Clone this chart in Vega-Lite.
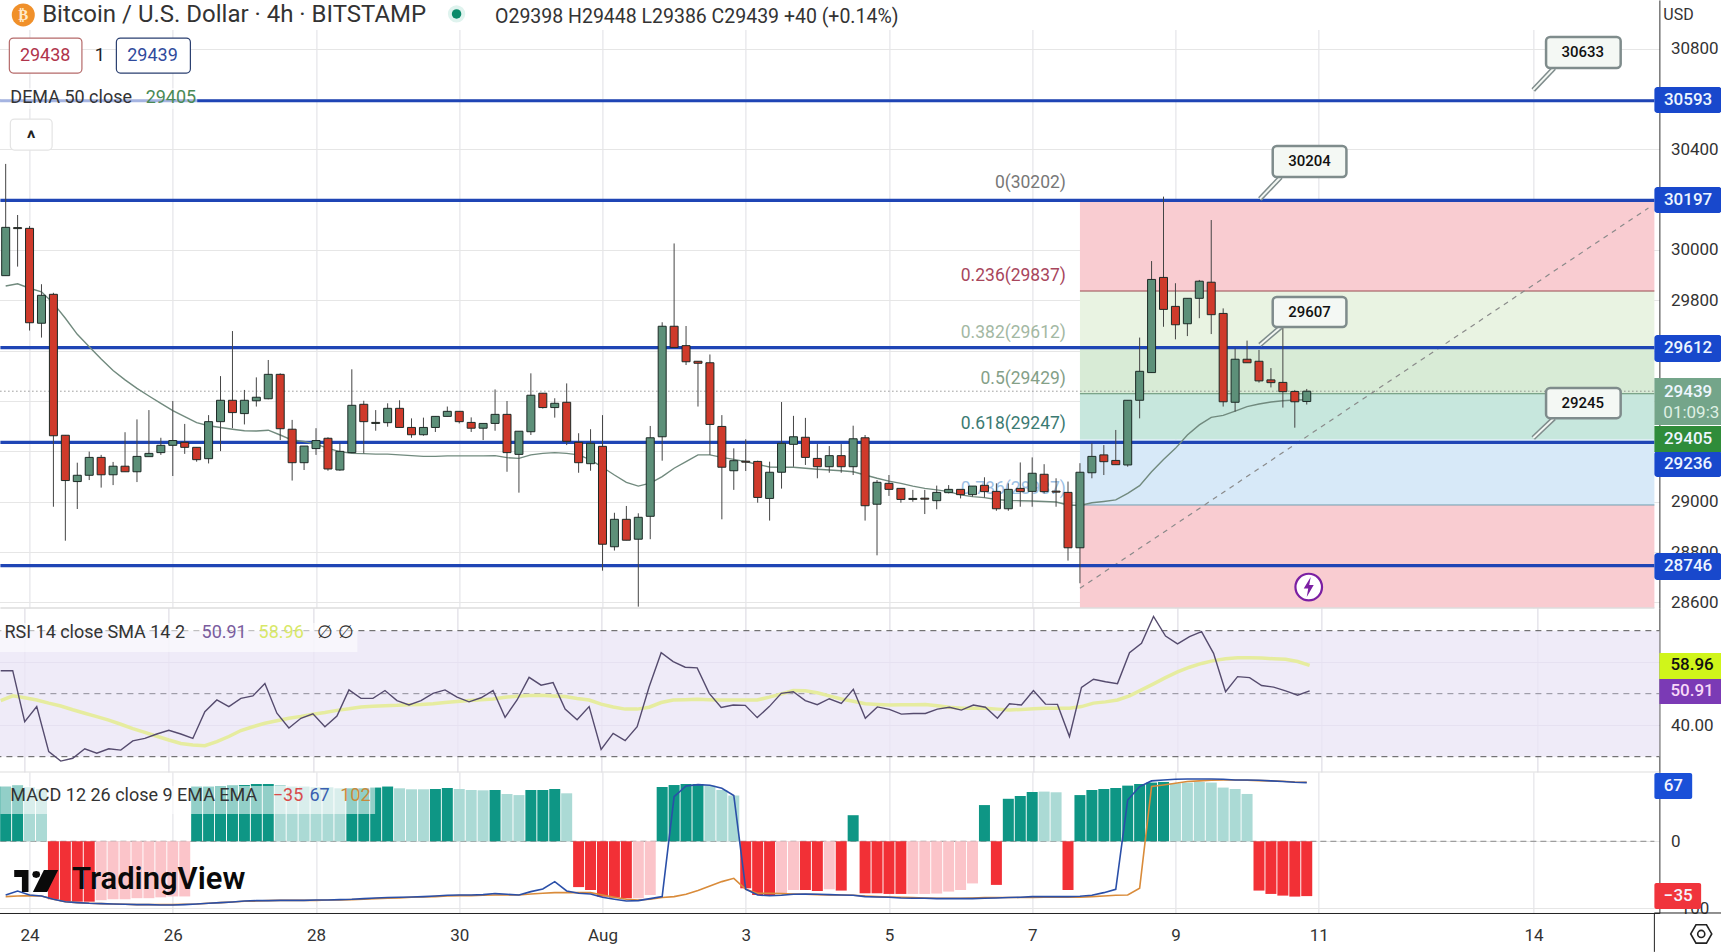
{"$schema":"https://vega.github.io/schema/vega-lite/v6.json","padding":{"left":-6.6,"top":0,"right":-3.2,"bottom":0},"autosize":{"type":"pad"},"background":"white","spacing":0,"bounds":"flush","config":{"view":{"stroke":null},"concat":{"spacing":0},"text":{"font":"Roboto"}},
"resolve":{"scale":{"color":"independent","fill":"independent","stroke":"independent"}},
"datasets":{"bars":[
{"t":"2023-07-23T16:00Z","o":29898,"h":30342,"l":29898,"c":30090,"dema":29857,"rsi":57.3,"ma":47.8,"hist":34.8,"shade":"up","macd":-31.8,"sig":-36.5},
{"t":"2023-07-23T20:00Z","o":30089,"h":30139,"l":29934,"c":30085,"dema":29866,"rsi":57.3,"ma":49.3,"hist":37.7,"shade":"up","macd":-22.3,"sig":-34.8},
{"t":"2023-07-24T00:00Z","o":30086,"h":30095,"l":29680,"c":29711,"dema":29848,"rsi":41.1,"ma":48.7,"hist":33,"shade":"upl","macd":-31.8,"sig":-33.5},
{"t":"2023-07-24T04:00Z","o":29709,"h":29864,"l":29652,"c":29820,"dema":29834,"rsi":45.9,"ma":48,"hist":28,"shade":"upl","macd":-34.8,"sig":-34.8},
{"t":"2023-07-24T08:00Z","o":29824,"h":29830,"l":28980,"c":29262,"dema":29788,"rsi":31.6,"ma":47,"hist":-46,"shade":"dn","macd":-46.2,"sig":-46.2},
{"t":"2023-07-24T12:00Z","o":29264,"h":29264,"l":28845,"c":29084,"dema":29729,"rsi":28.6,"ma":46.1,"hist":-55,"shade":"dn","macd":-57,"sig":-57},
{"t":"2023-07-24T16:00Z","o":29080,"h":29155,"l":28971,"c":29105,"dema":29665,"rsi":29.5,"ma":44.9,"hist":-57,"shade":"dn","macd":-61.7,"sig":-61.7},
{"t":"2023-07-24T20:00Z","o":29105,"h":29199,"l":29086,"c":29176,"dema":29616,"rsi":32.5,"ma":43.8,"hist":-57,"shade":"dn","macd":-65.7,"sig":-65.7},
{"t":"2023-07-25T00:00Z","o":29176,"h":29186,"l":29056,"c":29107,"dema":29567,"rsi":31.1,"ma":42.7,"hist":-50,"shade":"dnl","macd":-67.5,"sig":-67.5},
{"t":"2023-07-25T04:00Z","o":29107,"h":29158,"l":29066,"c":29141,"dema":29521,"rsi":32.5,"ma":41.6,"hist":-46,"shade":"dnl","macd":-69.7,"sig":-69.7},
{"t":"2023-07-25T08:00Z","o":29141,"h":29276,"l":29119,"c":29119,"dema":29484,"rsi":32.1,"ma":40.3,"hist":-46,"shade":"dnl","macd":-71.7,"sig":-71.7},
{"t":"2023-07-25T12:00Z","o":29119,"h":29327,"l":29078,"c":29180,"dema":29450,"rsi":35,"ma":38.9,"hist":-42,"shade":"dnl","macd":-73.5,"sig":-73.5},
{"t":"2023-07-25T16:00Z","o":29179,"h":29364,"l":29179,"c":29192,"dema":29420,"rsi":35.8,"ma":37.7,"hist":-42,"shade":"dnl","macd":-73.5,"sig":-73.5},
{"t":"2023-07-25T20:00Z","o":29195,"h":29254,"l":29186,"c":29224,"dema":29391,"rsi":37.2,"ma":36.5,"hist":-39,"shade":"dnl","macd":-76,"sig":-73.5},
{"t":"2023-07-26T00:00Z","o":29224,"h":29400,"l":29102,"c":29243,"dema":29362,"rsi":38.4,"ma":35.3,"hist":-36,"shade":"dnl","macd":-76,"sig":-73.5},
{"t":"2023-07-26T04:00Z","o":29236,"h":29309,"l":29190,"c":29216,"dema":29338,"rsi":37.2,"ma":34.2,"hist":-36,"shade":"dnl","macd":-73.5,"sig":-71.7},
{"t":"2023-07-26T08:00Z","o":29216,"h":29216,"l":29159,"c":29167,"dema":29314,"rsi":35.8,"ma":33.7,"hist":34.8,"shade":"up","macd":-69.7,"sig":-69.7},
{"t":"2023-07-26T12:00Z","o":29171,"h":29344,"l":29152,"c":29318,"dema":29302,"rsi":44.3,"ma":33.5,"hist":34.8,"shade":"up","macd":-65.7,"sig":-65.7},
{"t":"2023-07-26T16:00Z","o":29318,"h":29499,"l":29201,"c":29403,"dema":29295,"rsi":48,"ma":34.8,"hist":36.5,"shade":"up","macd":-61.7,"sig":-61.7},
{"t":"2023-07-26T20:00Z","o":29403,"h":29678,"l":29292,"c":29354,"dema":29288,"rsi":45.9,"ma":36.4,"hist":37.7,"shade":"up","macd":-58.2,"sig":-58.2},
{"t":"2023-07-27T00:00Z","o":29350,"h":29444,"l":29307,"c":29403,"dema":29282,"rsi":48.5,"ma":38.3,"hist":39.7,"shade":"up","macd":-54,"sig":-55.2},
{"t":"2023-07-27T04:00Z","o":29401,"h":29494,"l":29378,"c":29415,"dema":29281,"rsi":49.3,"ma":39.5,"hist":43.5,"shade":"up","macd":-52,"sig":-54},
{"t":"2023-07-27T08:00Z","o":29409,"h":29563,"l":29407,"c":29506,"dema":29284,"rsi":53.2,"ma":40.6,"hist":43.5,"shade":"up","macd":-52,"sig":-52},
{"t":"2023-07-27T12:00Z","o":29506,"h":29510,"l":29245,"c":29290,"dema":29265,"rsi":43.8,"ma":41.4,"hist":39.7,"shade":"upl","macd":-50.6,"sig":-50.6},
{"t":"2023-07-27T16:00Z","o":29288,"h":29325,"l":29084,"c":29155,"dema":29245,"rsi":39.1,"ma":42.2,"hist":34.8,"shade":"upl","macd":-50.6,"sig":-50.6},
{"t":"2023-07-27T20:00Z","o":29155,"h":29221,"l":29126,"c":29221,"dema":29239,"rsi":42.2,"ma":42.8,"hist":34.8,"shade":"upl","macd":-50.6,"sig":-50.6},
{"t":"2023-07-28T00:00Z","o":29211,"h":29292,"l":29186,"c":29243,"dema":29229,"rsi":43.6,"ma":43.5,"hist":32.6,"shade":"upl","macd":-49.2,"sig":-50.6},
{"t":"2023-07-28T04:00Z","o":29252,"h":29256,"l":29123,"c":29130,"dema":29212,"rsi":39.5,"ma":44,"hist":32.6,"shade":"upl","macd":-49.2,"sig":-49.2},
{"t":"2023-07-28T08:00Z","o":29126,"h":29232,"l":29123,"c":29200,"dema":29199,"rsi":42.9,"ma":44.7,"hist":29.8,"shade":"upl","macd":-47.7,"sig":-49.2},
{"t":"2023-07-28T12:00Z","o":29195,"h":29526,"l":29195,"c":29383,"dema":29192,"rsi":51.2,"ma":45.2,"hist":29.8,"shade":"up","macd":-46.2,"sig":-47.7},
{"t":"2023-07-28T16:00Z","o":29387,"h":29401,"l":29192,"c":29318,"dema":29191,"rsi":48.5,"ma":45.8,"hist":29.8,"shade":"up","macd":-43.5,"sig":-46.2},
{"t":"2023-07-28T20:00Z","o":29315,"h":29364,"l":29282,"c":29311,"dema":29189,"rsi":48.5,"ma":46,"hist":31.8,"shade":"up","macd":-41.2,"sig":-43.5},
{"t":"2023-07-29T00:00Z","o":29314,"h":29391,"l":29298,"c":29371,"dema":29189,"rsi":51,"ma":46.2,"hist":34.8,"shade":"up","macd":-39.7,"sig":-42.3},
{"t":"2023-07-29T04:00Z","o":29371,"h":29403,"l":29295,"c":29295,"dema":29186,"rsi":47.8,"ma":46.3,"hist":29.8,"shade":"upl","macd":-38.7,"sig":-41.2},
{"t":"2023-07-29T08:00Z","o":29295,"h":29331,"l":29254,"c":29266,"dema":29183,"rsi":46.4,"ma":46.5,"hist":27.3,"shade":"upl","macd":-37.7,"sig":-38.7},
{"t":"2023-07-29T12:00Z","o":29266,"h":29334,"l":29262,"c":29295,"dema":29180,"rsi":47.8,"ma":46.6,"hist":27.3,"shade":"upl","macd":-36.5,"sig":-37.7},
{"t":"2023-07-29T16:00Z","o":29295,"h":29339,"l":29277,"c":29339,"dema":29180,"rsi":50.1,"ma":46.8,"hist":28,"shade":"up","macd":-34.8,"sig":-36.5},
{"t":"2023-07-29T20:00Z","o":29339,"h":29378,"l":29339,"c":29359,"dema":29182,"rsi":51.2,"ma":47.2,"hist":30.6,"shade":"up","macd":-32.6,"sig":-34.8},
{"t":"2023-07-30T00:00Z","o":29359,"h":29359,"l":29311,"c":29318,"dema":29182,"rsi":48.9,"ma":47.5,"hist":28,"shade":"upl","macd":-31.8,"sig":-33.5},
{"t":"2023-07-30T04:00Z","o":29315,"h":29335,"l":29277,"c":29292,"dema":29182,"rsi":47.4,"ma":47.8,"hist":25.7,"shade":"upl","macd":-31.8,"sig":-33.5},
{"t":"2023-07-30T08:00Z","o":29292,"h":29311,"l":29245,"c":29311,"dema":29182,"rsi":48.7,"ma":48.1,"hist":25,"shade":"upl","macd":-30.6,"sig":-32.6},
{"t":"2023-07-30T12:00Z","o":29311,"h":29446,"l":29282,"c":29347,"dema":29183,"rsi":51,"ma":48.3,"hist":25.7,"shade":"up","macd":-28,"sig":-31.8},
{"t":"2023-07-30T16:00Z","o":29347,"h":29400,"l":29119,"c":29195,"dema":29175,"rsi":42.5,"ma":48.9,"hist":18.1,"shade":"upl","macd":-29.8,"sig":-31.8},
{"t":"2023-07-30T20:00Z","o":29188,"h":29280,"l":29036,"c":29280,"dema":29172,"rsi":48,"ma":49.2,"hist":16.4,"shade":"upl","macd":-31.8,"sig":-31.8},
{"t":"2023-07-31T00:00Z","o":29278,"h":29510,"l":29265,"c":29423,"dema":29186,"rsi":55.2,"ma":49.4,"hist":25.7,"shade":"up","macd":-23.6,"sig":-28.9},
{"t":"2023-07-31T04:00Z","o":29431,"h":29431,"l":29370,"c":29374,"dema":29192,"rsi":52.7,"ma":49.5,"hist":25.7,"shade":"up","macd":-18.6,"sig":-27.3},
{"t":"2023-07-31T08:00Z","o":29374,"h":29411,"l":29334,"c":29391,"dema":29195,"rsi":53.5,"ma":49.3,"hist":28,"shade":"up","macd":-9.7,"sig":-25.8},
{"t":"2023-07-31T12:00Z","o":29395,"h":29470,"l":29225,"c":29240,"dema":29192,"rsi":45.1,"ma":49.1,"hist":19.2,"shade":"upl","macd":-22.3,"sig":-25.8},
{"t":"2023-07-31T16:00Z","o":29236,"h":29272,"l":29115,"c":29155,"dema":29186,"rsi":41.7,"ma":48.5,"hist":-15.8,"shade":"dn","macd":-27.3,"sig":-25.8},
{"t":"2023-07-31T20:00Z","o":29151,"h":29288,"l":29123,"c":29232,"dema":29166,"rsi":45.9,"ma":48,"hist":-20.4,"shade":"dn","macd":-28.9,"sig":-25.8},
{"t":"2023-08-01T00:00Z","o":29220,"h":29344,"l":28726,"c":28831,"dema":29137,"rsi":32.3,"ma":46.7,"hist":-36.5,"shade":"dn","macd":-38.7,"sig":-31.8},
{"t":"2023-08-01T04:00Z","o":28821,"h":28956,"l":28806,"c":28930,"dema":29106,"rsi":37.4,"ma":45.8,"hist":-39.7,"shade":"dn","macd":-46.2,"sig":-38.7},
{"t":"2023-08-01T08:00Z","o":28930,"h":28983,"l":28847,"c":28847,"dema":29077,"rsi":35.1,"ma":45.1,"hist":-42.3,"shade":"dn","macd":-54,"sig":-46.2},
{"t":"2023-08-01T12:00Z","o":28851,"h":28954,"l":28583,"c":28938,"dema":29062,"rsi":39.5,"ma":45.1,"hist":-42.3,"shade":"dnl","macd":-52,"sig":-49.2},
{"t":"2023-08-01T16:00Z","o":28942,"h":29301,"l":28851,"c":29254,"dema":29074,"rsi":52.2,"ma":45.7,"hist":-31.8,"shade":"dnl","macd":-43.5,"sig":-46.2},
{"t":"2023-08-01T20:00Z","o":29258,"h":29713,"l":29163,"c":29697,"dema":29100,"rsi":63,"ma":47.2,"hist":33.5,"shade":"up","macd":-36.5,"sig":-39.7},
{"t":"2023-08-02T00:00Z","o":29697,"h":30026,"l":29613,"c":29613,"dema":29133,"rsi":60.2,"ma":48,"hist":39.7,"shade":"up","macd":14.3,"sig":-36.5},
{"t":"2023-08-02T04:00Z","o":29620,"h":29698,"l":29543,"c":29556,"dema":29159,"rsi":58.4,"ma":48.1,"hist":43.5,"shade":"up","macd":36.5,"sig":-29.8},
{"t":"2023-08-02T08:00Z","o":29558,"h":29558,"l":29378,"c":29550,"dema":29186,"rsi":58.2,"ma":48.2,"hist":43.5,"shade":"up","macd":41.2,"sig":-21.5},
{"t":"2023-08-02T12:00Z","o":29552,"h":29585,"l":29186,"c":29307,"dema":29186,"rsi":50.1,"ma":48.1,"hist":37.7,"shade":"upl","macd":38.7,"sig":-14.3},
{"t":"2023-08-02T16:00Z","o":29299,"h":29344,"l":28930,"c":29137,"dema":29176,"rsi":45.6,"ma":48,"hist":25.7,"shade":"upl","macd":29.8,"sig":-9.7},
{"t":"2023-08-02T20:00Z","o":29123,"h":29212,"l":29047,"c":29163,"dema":29168,"rsi":46.4,"ma":48,"hist":15.8,"shade":"upl","macd":15.8,"sig":-7.2},
{"t":"2023-08-03T00:00Z","o":29161,"h":29248,"l":29122,"c":29157,"dema":29159,"rsi":46.3,"ma":48,"hist":-17.6,"shade":"dn","macd":-19.2,"sig":-19.2},
{"t":"2023-08-03T04:00Z","o":29160,"h":29163,"l":28996,"c":29017,"dema":29148,"rsi":42.4,"ma":48,"hist":-31.8,"shade":"dn","macd":-31.8,"sig":-27.3},
{"t":"2023-08-03T08:00Z","o":29013,"h":29159,"l":28925,"c":29117,"dema":29138,"rsi":45.9,"ma":48.9,"hist":-33.5,"shade":"dn","macd":-33.5,"sig":-27.3},
{"t":"2023-08-03T12:00Z","o":29117,"h":29396,"l":29052,"c":29232,"dema":29137,"rsi":50.1,"ma":49.9,"hist":-27.3,"shade":"dnl","macd":-32.6,"sig":-28},
{"t":"2023-08-03T16:00Z","o":29228,"h":29341,"l":29139,"c":29258,"dema":29137,"rsi":50.6,"ma":51,"hist":-20.4,"shade":"dnl","macd":-29.8,"sig":-28.9},
{"t":"2023-08-03T20:00Z","o":29256,"h":29333,"l":29146,"c":29176,"dema":29133,"rsi":47.8,"ma":50.9,"hist":-20.4,"shade":"dn","macd":-28.9,"sig":-29.8},
{"t":"2023-08-04T00:00Z","o":29172,"h":29229,"l":29093,"c":29139,"dema":29129,"rsi":46.5,"ma":50.3,"hist":-22.3,"shade":"dn","macd":-29.8,"sig":-30.6},
{"t":"2023-08-04T04:00Z","o":29139,"h":29221,"l":29115,"c":29183,"dema":29126,"rsi":48.4,"ma":49.3,"hist":-19.2,"shade":"dnl","macd":-30.6,"sig":-31.8},
{"t":"2023-08-04T08:00Z","o":29183,"h":29229,"l":29115,"c":29139,"dema":29123,"rsi":46.9,"ma":48.3,"hist":-21.5,"shade":"dn","macd":-31.8,"sig":-31.8},
{"t":"2023-08-04T12:00Z","o":29139,"h":29302,"l":29106,"c":29250,"dema":29119,"rsi":51.4,"ma":47.6,"hist":2.6,"shade":"up","macd":-32.6,"sig":-32.6},
{"t":"2023-08-04T16:00Z","o":29254,"h":29265,"l":28925,"c":28984,"dema":29106,"rsi":42.2,"ma":46.8,"hist":-27.3,"shade":"dn","macd":-36.5,"sig":-34.8},
{"t":"2023-08-04T20:00Z","o":28990,"h":29086,"l":28787,"c":29077,"dema":29093,"rsi":45.8,"ma":46.6,"hist":-27.3,"shade":"dn","macd":-37.7,"sig":-36.5},
{"t":"2023-08-05T00:00Z","o":29073,"h":29106,"l":29023,"c":29049,"dema":29082,"rsi":45,"ma":46.4,"hist":-28.9,"shade":"dn","macd":-38.7,"sig":-37.7},
{"t":"2023-08-05T04:00Z","o":29053,"h":29053,"l":28996,"c":29009,"dema":29073,"rsi":43.5,"ma":46.5,"hist":-28.9,"shade":"dn","macd":-41.2,"sig":-38.7},
{"t":"2023-08-05T08:00Z","o":29013,"h":29047,"l":29000,"c":29009,"dema":29062,"rsi":43.7,"ma":46.5,"hist":-28.9,"shade":"dnl","macd":-42.3,"sig":-39.7},
{"t":"2023-08-05T12:00Z","o":29014,"h":29047,"l":28951,"c":29010,"dema":29053,"rsi":43.7,"ma":46.6,"hist":-28.9,"shade":"dnl","macd":-42.3,"sig":-41.2},
{"t":"2023-08-05T16:00Z","o":29004,"h":29064,"l":28970,"c":29037,"dema":29047,"rsi":45.1,"ma":46.2,"hist":-28,"shade":"dnl","macd":-43.5,"sig":-42.3},
{"t":"2023-08-05T20:00Z","o":29036,"h":29066,"l":29033,"c":29049,"dema":29040,"rsi":45.7,"ma":45.7,"hist":-23.5,"shade":"dnl","macd":-43.5,"sig":-42.3},
{"t":"2023-08-06T00:00Z","o":29049,"h":29049,"l":29013,"c":29028,"dema":29027,"rsi":44.8,"ma":45.4,"hist":-20.4,"shade":"dnl","macd":-43.5,"sig":-42.3},
{"t":"2023-08-06T04:00Z","o":29028,"h":29062,"l":29020,"c":29062,"dema":29020,"rsi":46.4,"ma":45.4,"hist":-11.4,"shade":"dnl","macd":-43.5,"sig":-41.2},
{"t":"2023-08-06T08:00Z","o":29065,"h":29097,"l":29017,"c":29040,"dema":29016,"rsi":45.7,"ma":45.4,"hist":6.7,"shade":"up","macd":-42.3,"sig":-39.7},
{"t":"2023-08-06T12:00Z","o":29041,"h":29073,"l":28964,"c":28972,"dema":29009,"rsi":42.2,"ma":45.1,"hist":-13,"shade":"dn","macd":-41.2,"sig":-39.7},
{"t":"2023-08-06T16:00Z","o":28972,"h":29073,"l":28964,"c":29049,"dema":29005,"rsi":46.8,"ma":44.8,"hist":11.8,"shade":"up","macd":-39.7,"sig":-39.7},
{"t":"2023-08-06T20:00Z","o":29053,"h":29156,"l":28980,"c":29040,"dema":29004,"rsi":46.4,"ma":45,"hist":15,"shade":"up","macd":-38.7,"sig":-39.7},
{"t":"2023-08-07T00:00Z","o":29041,"h":29176,"l":28980,"c":29113,"dema":29003,"rsi":51,"ma":45.2,"hist":21.5,"shade":"up","macd":-36.5,"sig":-39.7},
{"t":"2023-08-07T04:00Z","o":29109,"h":29149,"l":29033,"c":29040,"dema":29001,"rsi":46.7,"ma":45.4,"hist":22.3,"shade":"upl","macd":-36.5,"sig":-38.7},
{"t":"2023-08-07T08:00Z","o":29042,"h":29093,"l":28980,"c":29038,"dema":28999,"rsi":46.6,"ma":45.4,"hist":21,"shade":"upl","macd":-36.5,"sig":-38.7},
{"t":"2023-08-07T12:00Z","o":29037,"h":29080,"l":28766,"c":28817,"dema":28987,"rsi":36.4,"ma":45.4,"hist":-20.4,"shade":"dn","macd":-36.5,"sig":-38.7},
{"t":"2023-08-07T16:00Z","o":28817,"h":29153,"l":28676,"c":29117,"dema":28985,"rsi":52,"ma":45.9,"hist":16.4,"shade":"up","macd":-35.5,"sig":-38.7},
{"t":"2023-08-07T20:00Z","o":29115,"h":29232,"l":29093,"c":29180,"dema":28996,"rsi":54.6,"ma":47,"hist":25.7,"shade":"up","macd":-32.6,"sig":-36.5},
{"t":"2023-08-08T00:00Z","o":29186,"h":29225,"l":29106,"c":29159,"dema":29001,"rsi":53.8,"ma":47.4,"hist":28,"shade":"up","macd":-25.8,"sig":-34.8},
{"t":"2023-08-08T04:00Z","o":29164,"h":29285,"l":29147,"c":29147,"dema":29007,"rsi":53.2,"ma":48,"hist":30.6,"shade":"up","macd":-19.2,"sig":-32.6},
{"t":"2023-08-08T08:00Z","o":29146,"h":29403,"l":29139,"c":29403,"dema":29033,"rsi":63,"ma":49.3,"hist":37.7,"shade":"up","macd":10.6,"sig":-31.8},
{"t":"2023-08-08T12:00Z","o":29403,"h":29652,"l":29331,"c":29518,"dema":29064,"rsi":66,"ma":51.2,"hist":43.5,"shade":"up","macd":34.8,"sig":-17.6},
{"t":"2023-08-08T16:00Z","o":29513,"h":29956,"l":29513,"c":29883,"dema":29119,"rsi":74.5,"ma":53.1,"hist":49.2,"shade":"up","macd":57,"sig":34.8},
{"t":"2023-08-08T20:00Z","o":29891,"h":30212,"l":29695,"c":29764,"dema":29168,"rsi":68.3,"ma":55.1,"hist":52,"shade":"up","macd":61.7,"sig":39.7},
{"t":"2023-08-09T00:00Z","o":29776,"h":29868,"l":29645,"c":29703,"dema":29212,"rsi":65.8,"ma":56.9,"hist":46.2,"shade":"upl","macd":65.7,"sig":46.2},
{"t":"2023-08-09T04:00Z","o":29707,"h":29808,"l":29658,"c":29808,"dema":29265,"rsi":68.1,"ma":58.4,"hist":49.2,"shade":"upl","macd":67.5,"sig":54},
{"t":"2023-08-09T08:00Z","o":29808,"h":29881,"l":29729,"c":29876,"dema":29305,"rsi":69.7,"ma":59.6,"hist":52,"shade":"upl","macd":67.5,"sig":57},
{"t":"2023-08-09T12:00Z","o":29872,"h":30119,"l":29666,"c":29743,"dema":29335,"rsi":62.8,"ma":60.5,"hist":49.2,"shade":"upl","macd":67.5,"sig":60},
{"t":"2023-08-09T16:00Z","o":29748,"h":29768,"l":29378,"c":29397,"dema":29343,"rsi":50.6,"ma":61.1,"hist":31.8,"shade":"upl","macd":65.7,"sig":61.7},
{"t":"2023-08-09T20:00Z","o":29395,"h":29609,"l":29358,"c":29566,"dema":29360,"rsi":55.4,"ma":61.4,"hist":28,"shade":"upl","macd":61.7,"sig":61.7},
{"t":"2023-08-10T00:00Z","o":29566,"h":29640,"l":29552,"c":29552,"dema":29378,"rsi":55.1,"ma":61.4,"hist":18.1,"shade":"upl","macd":61.7,"sig":60},
{"t":"2023-08-10T04:00Z","o":29558,"h":29603,"l":29473,"c":29480,"dema":29388,"rsi":52.6,"ma":61.3,"hist":-21.5,"shade":"dn","macd":60,"sig":58.2},
{"t":"2023-08-10T08:00Z","o":29484,"h":29531,"l":29454,"c":29473,"dema":29396,"rsi":52.1,"ma":61.1,"hist":-28.9,"shade":"dn","macd":57,"sig":57},
{"t":"2023-08-10T12:00Z","o":29474,"h":29695,"l":29374,"c":29437,"dema":29401,"rsi":50.9,"ma":60.9,"hist":-33.5,"shade":"dn","macd":54,"sig":55.2},
{"t":"2023-08-10T16:00Z","o":29438,"h":29444,"l":29294,"c":29397,"dema":29404,"rsi":49.5,"ma":60.2,"hist":-36.5,"shade":"dn","macd":50.6,"sig":52},
{"t":"2023-08-10T20:00Z","o":29398,"h":29448,"l":29386,"c":29439,"dema":29405,"rsi":50.91,"ma":58.96,"hist":-35,"shade":"dn","macd":49.2,"sig":50.6}
]},
"vconcat":[
{"width":1664,"height":608,
"resolve":{"scale":{"color":"independent","fill":"independent","stroke":"independent"}},
"encoding":{
"x":{"field":"t","type":"temporal","scale":{"type":"utc","domain":["2023-07-23T14:14:00Z","2023-08-15T16:30:00Z"],"nice":false},"axis":{"values":["2023-07-24T00:00:00Z","2023-07-26T00:00:00Z","2023-07-28T00:00:00Z","2023-07-30T00:00:00Z","2023-08-01T00:00:00Z","2023-08-03T00:00:00Z","2023-08-05T00:00:00Z","2023-08-07T00:00:00Z","2023-08-09T00:00:00Z","2023-08-11T00:00:00Z","2023-08-14T00:00:00Z"],"grid":true,"gridColor":"#dfdfe4","labels":false,"ticks":false,"domain":false,"title":null}},
"y":{"field":"p","type":"quantitative","scale":{"domain":[28577.7,30993.2],"nice":false,"zero":false},"axis":{"orient":"right","values":[28600,28800,29000,29200,29400,29600,29800,30000,30200,30400,30600,30800],"format":"d","grid":true,"gridColor":"#e6e6e6","ticks":false,"domain":true,"domainColor":"#333333","labelAlign":"left","labelPadding":11,"labelFontSize":17,"labelColor":"#333333","labelFont":"Roboto","labelOverlap":false,"labelFlush":false,"title":null}}},
"layer":[
{"data":{"values":[{"t":"2023-07-23T14:14Z","t2":"2023-08-15T16:30Z","p":30993,"p2":30874}]},"mark":{"type":"rect","color":"white"},"encoding":{"x2":{"field":"t2"},"y2":{"field":"p2"}}},
{"data":{"values":[
{"z":"a","t":"2023-08-07T16:00Z","t2":"2023-08-15T16:30Z","p":30197,"p2":29837},
{"z":"b","t":"2023-08-07T16:00Z","t2":"2023-08-15T16:30Z","p":29837,"p2":29612},
{"z":"c","t":"2023-08-07T16:00Z","t2":"2023-08-15T16:30Z","p":29612,"p2":29429},
{"z":"d","t":"2023-08-07T16:00Z","t2":"2023-08-15T16:30Z","p":29429,"p2":29247},
{"z":"e","t":"2023-08-07T16:00Z","t2":"2023-08-15T16:30Z","p":29247,"p2":28987},
{"z":"f","t":"2023-08-07T16:00Z","t2":"2023-08-15T16:30Z","p":28987,"p2":28578}]},
"mark":{"type":"rect"},"encoding":{"x2":{"field":"t2"},"y2":{"field":"p2"},"fill":{"field":"z","type":"nominal","legend":null,"scale":{"domain":["a","b","c","d","e","f"],"range":["#f9ccd1","#e9f3e2","#d8ebd6","#c7e7dd","#d7e9f8","#f9ccd1"]}}}},
{"data":{"values":[
{"z":"l1","t":"2023-08-07T16:00Z","t2":"2023-08-15T16:30Z","p":29837},
{"z":"l2","t":"2023-08-07T16:00Z","t2":"2023-08-15T16:30Z","p":29429},
{"z":"l3","t":"2023-08-07T16:00Z","t2":"2023-08-15T16:30Z","p":28987}]},
"mark":{"type":"rule","strokeWidth":1},"encoding":{"x2":{"field":"t2"},"stroke":{"field":"z","type":"nominal","legend":null,"scale":{"domain":["l1","l2","l3"],"range":["#9a4a50","#5f9070","#6f9fb0"]}}}},
{"data":{"values":[{"t":"2023-07-23T14:14Z","t2":"2023-08-15T16:30Z","p":29439}]},"mark":{"type":"rule","color":"#666666","strokeDash":[1,3],"strokeWidth":1},"encoding":{"x2":{"field":"t2"}}},
{"data":{"values":[
{"label":"0(30202)","z":"a","t":"2023-08-07T11:18Z","p":30265},
{"label":"0.236(29837)","z":"b","t":"2023-08-07T11:18Z","p":29898},
{"label":"0.382(29612)","z":"c","t":"2023-08-07T11:18Z","p":29669},
{"label":"0.5(29429)","z":"d","t":"2023-08-07T11:18Z","p":29487},
{"label":"0.618(29247)","z":"e","t":"2023-08-07T11:18Z","p":29307},
{"label":"0.786(28987)","z":"f","t":"2023-08-07T11:18Z","p":29049}]},
"mark":{"type":"text","align":"right","baseline":"middle","fontSize":17.5,"font":"Roboto"},"encoding":{"text":{"field":"label"},"color":{"field":"z","type":"nominal","legend":null,"scale":{"domain":["a","b","c","d","e","f"],"range":["#777777","#a8465c","#a3b8a3","#84a088","#3b7a72","#9cc0e4"]}}}},
{"data":{"values":[{"t":"2023-08-07T16:00Z","p":28656},{"t":"2023-08-15T14:30Z","p":30167}]},"mark":{"type":"line","color":"#8a8a8a","strokeDash":[5,5],"strokeWidth":1.2}},
{"data":{"values":[
{"t":"2023-07-23T14:14Z","t2":"2023-08-15T16:30Z","p":30593},
{"t":"2023-07-23T14:14Z","t2":"2023-08-15T16:30Z","p":30197},
{"t":"2023-07-23T14:14Z","t2":"2023-08-15T16:30Z","p":29612},
{"t":"2023-07-23T14:14Z","t2":"2023-08-15T16:30Z","p":29236},
{"t":"2023-07-23T14:14Z","t2":"2023-08-15T16:30Z","p":28746}]},
"mark":{"type":"rule","color":"#1f45b5","strokeWidth":3.2},"encoding":{"x2":{"field":"t2"}}},
{"data":{"name":"bars"},"mark":{"type":"line","color":"#718a7e","strokeWidth":1.4},"encoding":{"y":{"field":"dema","type":"quantitative"}}},
{"data":{"name":"bars"},"mark":{"type":"rule","color":"#444444","strokeWidth":1},"encoding":{"y":{"field":"h","type":"quantitative"},"y2":{"field":"l"}}},
{"data":{"name":"bars"},"mark":{"type":"bar","width":8,"stroke":"#1c2a26","strokeWidth":1},"encoding":{"y":{"field":"o","type":"quantitative"},"y2":{"field":"c"},"color":{"condition":{"test":"datum.c>=datum.o","value":"#5d9079"},"value":"#cf3a2b"}}},
{"data":{"values":[
{"t":"2023-08-13T23:54Z","t2":"2023-08-14T06:54Z","p":30636,"p2":30723},
{"t":"2023-08-10T04:18Z","t2":"2023-08-10T11:18Z","p":30203,"p2":30290},
{"t":"2023-08-10T04:18Z","t2":"2023-08-10T11:18Z","p":29623,"p2":29694},
{"t":"2023-08-13T23:54Z","t2":"2023-08-14T06:54Z","p":29253,"p2":29332}]},
"mark":{"type":"rule","color":"#7f8c8c","strokeWidth":5},"encoding":{"x2":{"field":"t2"},"y2":{"field":"p2"}}},
{"data":{"values":[
{"t":"2023-08-13T23:54Z","t2":"2023-08-14T06:54Z","p":30636,"p2":30723},
{"t":"2023-08-10T04:18Z","t2":"2023-08-10T11:18Z","p":30203,"p2":30290},
{"t":"2023-08-10T04:18Z","t2":"2023-08-10T11:18Z","p":29623,"p2":29694},
{"t":"2023-08-13T23:54Z","t2":"2023-08-14T06:54Z","p":29253,"p2":29332}]},
"mark":{"type":"rule","color":"#f4f8f4","strokeWidth":2},"encoding":{"x2":{"field":"t2"},"y2":{"field":"p2"}}},
{"data":{"values":[
{"t":"2023-08-14T04:12Z","t2":"2023-08-15T05:12Z","p":30846,"p2":30723},
{"t":"2023-08-10T08:36Z","t2":"2023-08-11T09:18Z","p":30413,"p2":30290},
{"t":"2023-08-10T08:36Z","t2":"2023-08-11T09:18Z","p":29813,"p2":29694},
{"t":"2023-08-14T04:12Z","t2":"2023-08-15T05:12Z","p":29452,"p2":29332}]},
"mark":{"type":"rect","fill":"#f4f8f4","stroke":"#7f8c8c","strokeWidth":2.5,"cornerRadius":4},"encoding":{"x2":{"field":"t2"},"y2":{"field":"p2"}}},
{"data":{"values":[
{"label":"30633","t":"2023-08-14T16:30Z","p":30785},
{"label":"30204","t":"2023-08-10T20:54Z","p":30352},
{"label":"29607","t":"2023-08-10T20:54Z","p":29754},
{"label":"29245","t":"2023-08-14T16:30Z","p":29392}]},
"mark":{"type":"text","align":"center","baseline":"middle","fontSize":15,"fontWeight":500,"font":"Roboto","color":"#111111"},"encoding":{"text":{"field":"label"}}},
{"data":{"values":[{"t":"2023-08-10T20:40Z","p":28661}]},"mark":{"type":"point","shape":"circle","size":707,"filled":true,"fill":"white","stroke":"#7b1fa2","strokeWidth":2.2,"opacity":1}},
{"data":{"values":[{"t":"2023-08-10T20:40Z","p":28661}]},"mark":{"type":"point","shape":"M0.2,-1L-0.5,0.15L-0.05,0.15L-0.2,1L0.5,-0.2L0.05,-0.2Z","size":400,"filled":true,"fill":"#7b1fa2","opacity":1}},
{"data":{"values":[{"t":"2023-07-23T14:14Z","t2":"2023-07-26T08:12Z","p":30644,"p2":30560}]},"mark":{"type":"rect","color":"white","opacity":0.6},"encoding":{"x2":{"field":"t2"},"y2":{"field":"p2"}}},
{"data":{"values":[
{"t":"2023-07-23T17:14Z","t2":"2023-07-24T17:33Z","p":30842,"p2":30703,"z":"s"},
{"t":"2023-07-25T05:06Z","t2":"2023-07-26T05:54Z","p":30842,"p2":30703,"z":"b"},
{"t":"2023-07-23T17:34Z","t2":"2023-07-24T07:34Z","p":30520,"p2":30397,"z":"c"}]},
"mark":{"type":"rect","fill":"white","strokeWidth":1.2,"cornerRadius":4},"encoding":{"x2":{"field":"t2"},"y2":{"field":"p2"},"stroke":{"field":"z","type":"nominal","legend":null,"scale":{"domain":["s","b","c"],"range":["#b56a6a","#2a3f70","#e4e4e4"]}}}},
{"data":{"values":[
{"label":"29438","z":"s","t":"2023-07-24T05:14Z","p":30771},
{"label":"1","z":"n","t":"2023-07-24T23:33Z","p":30771},
{"label":"29439","z":"b","t":"2023-07-25T17:12Z","p":30771}]},
"mark":{"type":"text","align":"center","baseline":"middle","fontSize":18,"font":"Roboto"},"encoding":{"text":{"field":"label"},"color":{"field":"z","type":"nominal","legend":null,"scale":{"domain":["s","n","b"],"range":["#b0344b","#222222","#2f4a9c"]}}}},
{"data":{"values":[{"label":"^","t":"2023-07-24T00:34Z","p":30440}]},"mark":{"type":"text","align":"center","baseline":"middle","fontSize":20,"fontWeight":"bold","font":"Roboto","color":"#222222"},"encoding":{"text":{"field":"label"}}},
{"data":{"values":[{"label":"DEMA 50 close","z":"n","t":"2023-07-23T17:34Z","p":30604},{"label":"29405","z":"g","t":"2023-07-25T14:54Z","p":30604}]},
"mark":{"type":"text","align":"left","baseline":"middle","fontSize":18,"font":"Roboto"},"encoding":{"text":{"field":"label"},"color":{"field":"z","type":"nominal","legend":null,"scale":{"domain":["n","g"],"range":["#333333","#4a8a55"]}}}},
{"data":{"values":[{"t":"2023-07-23T21:54Z","p":30934}]},"mark":{"type":"point","shape":"circle","size":530,"filled":true,"fill":"#f0902a","opacity":1}},
{"data":{"values":[{"label":"₿","t":"2023-07-23T21:54Z","p":30934}]},"mark":{"type":"text","align":"center","baseline":"middle","fontSize":15,"font":"DejaVu Sans","fontWeight":"bold","color":"#ffe9c8"},"encoding":{"text":{"field":"label"}}},
{"data":{"values":[{"t":"2023-07-29T23:06Z","p":30938}]},"mark":{"type":"point","shape":"circle","size":300,"filled":true,"fill":"#dff3ee","opacity":1}},
{"data":{"values":[{"t":"2023-07-29T23:06Z","p":30938}]},"mark":{"type":"point","shape":"circle","size":90,"filled":true,"fill":"#0a8a6a","opacity":1}},
{"data":{"values":[{"label":"Bitcoin / U.S. Dollar · 4h · BITSTAMP","t":"2023-07-24T04:14Z","p":30934}]},"mark":{"type":"text","align":"left","baseline":"middle","fontSize":24,"font":"Roboto","color":"#333333"},"encoding":{"text":{"field":"label"}}},
{"data":{"values":[{"label":"O29398  H29448  L29386  C29439  +40 (+0.14%)","t":"2023-07-30T12:00Z","p":30926}]},"mark":{"type":"text","align":"left","baseline":"middle","fontSize":19.5,"font":"Roboto","color":"#333333"},"encoding":{"text":{"field":"label"}}},
{"data":{"values":[{"label":"USD","t":"2023-08-15T19:30Z","p":30934}]},"mark":{"type":"text","align":"left","baseline":"middle","fontSize":16,"font":"Roboto","color":"#333333"},"encoding":{"text":{"field":"label"}}},
{"data":{"values":[
{"t":"2023-08-15T16:30Z","t2":"2023-08-16T15:00Z","p":30648,"p2":30544},
{"t":"2023-08-15T16:30Z","t2":"2023-08-16T15:00Z","p":30250,"p2":30147},
{"t":"2023-08-15T16:30Z","t2":"2023-08-16T15:00Z","p":29662,"p2":29555},
{"t":"2023-08-15T16:30Z","t2":"2023-08-16T15:00Z","p":29201,"p2":29098},
{"t":"2023-08-15T16:30Z","t2":"2023-08-16T15:00Z","p":28796,"p2":28689}]},
"mark":{"type":"rect","color":"#1848cc","cornerRadius":3},"encoding":{"x2":{"field":"t2"},"y2":{"field":"p2"}}},
{"data":{"values":[{"t":"2023-08-15T16:30Z","t2":"2023-08-16T15:10Z","p":29491,"p2":29305}]},"mark":{"type":"rect","color":"#74a58a"},"encoding":{"x2":{"field":"t2"},"y2":{"field":"p2"}}},
{"data":{"values":[{"t":"2023-08-15T16:30Z","t2":"2023-08-16T15:00Z","p":29301,"p2":29197}]},"mark":{"type":"rect","color":"#2f8c3a"},"encoding":{"x2":{"field":"t2"},"y2":{"field":"p2"}}},
{"data":{"values":[
{"label":"30593","t":"2023-08-16T03:48Z","p":30596},
{"label":"30197","t":"2023-08-16T03:48Z","p":30199},
{"label":"29612","t":"2023-08-16T03:48Z","p":29609},
{"label":"29439","t":"2023-08-16T03:48Z","p":29437},
{"label":"29405","t":"2023-08-16T03:48Z","p":29249},
{"label":"29236","t":"2023-08-16T03:48Z","p":29150},
{"label":"28746","t":"2023-08-16T03:48Z","p":28743}]},
"mark":{"type":"text","align":"center","baseline":"middle","fontSize":17,"fontWeight":500,"font":"Roboto","color":"#eef6ff"},"encoding":{"text":{"field":"label"}}},
{"data":{"values":[{"label":"01:09:3","t":"2023-08-15T19:30Z","p":29354}]},"mark":{"type":"text","align":"left","baseline":"middle","fontSize":17,"font":"Roboto","color":"#dff0e4"},"encoding":{"text":{"field":"label"}}},
{"data":{"values":[{"t":"2023-07-23T14:14Z","t2":"2023-08-15T16:30Z","p":28578}]},"mark":{"type":"rule","color":"#dddddd","strokeWidth":1.5},"encoding":{"x2":{"field":"t2"}}}
]},
{"width":1664,"height":164,
"resolve":{"scale":{"color":"independent","fill":"independent","stroke":"independent"}},
"encoding":{
"x":{"field":"t","type":"temporal","scale":{"type":"utc","domain":["2023-07-23T14:14:00Z","2023-08-15T16:30:00Z"],"nice":false},"axis":{"values":["2023-07-24T00:00:00Z","2023-07-26T00:00:00Z","2023-07-28T00:00:00Z","2023-07-30T00:00:00Z","2023-08-01T00:00:00Z","2023-08-03T00:00:00Z","2023-08-05T00:00:00Z","2023-08-07T00:00:00Z","2023-08-09T00:00:00Z","2023-08-11T00:00:00Z","2023-08-14T00:00:00Z"],"grid":true,"gridColor":"#d8d6e0","labels":false,"ticks":false,"domain":false,"title":null}},
"y":{"field":"v","type":"quantitative","scale":{"domain":[25.14,77.2],"nice":false,"zero":false},"axis":{"orient":"right","values":[40,60],"format":".2f","grid":true,"gridColor":"#cfcbdc","ticks":false,"domain":true,"domainColor":"#333333","labelAlign":"left","labelPadding":11,"labelFontSize":17,"labelColor":"#333333","labelFont":"Roboto","labelOverlap":false,"labelFlush":false,"title":null}}},
"layer":[
{"data":{"values":[{"t":"2023-07-23T14:14Z","t2":"2023-08-15T16:30Z","v":70,"v2":30}]},"mark":{"type":"rect","color":"#ebe6f6","opacity":0.8},"encoding":{"x2":{"field":"t2"},"y2":{"field":"v2"}}},
{"data":{"values":[{"t":"2023-07-23T14:14Z","t2":"2023-08-15T16:30Z","v":70},{"t":"2023-07-23T14:14Z","t2":"2023-08-15T16:30Z","v":30}]},"mark":{"type":"rule","color":"#555555","strokeDash":[6,5],"strokeWidth":1},"encoding":{"x2":{"field":"t2"}}},
{"data":{"values":[{"t":"2023-07-23T14:14Z","t2":"2023-08-15T16:30Z","v":50}]},"mark":{"type":"rule","color":"#8f8d98","strokeDash":[6,5],"strokeWidth":1},"encoding":{"x2":{"field":"t2"}}},
{"data":{"name":"bars"},"mark":{"type":"line","color":"#e6ec9f","strokeWidth":3.5},"encoding":{"y":{"field":"ma","type":"quantitative"}}},
{"data":{"name":"bars"},"mark":{"type":"line","color":"#554b6e","strokeWidth":1.4},"encoding":{"y":{"field":"rsi","type":"quantitative"}}},
{"data":{"values":[{"t":"2023-07-23T14:14Z","t2":"2023-07-28T14:48Z","v":72.4,"v2":63.2}]},"mark":{"type":"rect","color":"white","opacity":0.55},"encoding":{"x2":{"field":"t2"},"y2":{"field":"v2"}}},
{"data":{"values":[
{"label":"RSI 14 close SMA 14 2","z":"n","t":"2023-07-23T17:14Z","v":69.3},
{"label":"50.91","z":"p","t":"2023-07-26T10:54Z","v":69.3},
{"label":"58.96","z":"y","t":"2023-07-27T05:54Z","v":69.3},
{"label":"∅","z":"n","t":"2023-07-28T01:30Z","v":69.3},
{"label":"∅","z":"n","t":"2023-07-28T08:30Z","v":69.3}]},
"mark":{"type":"text","align":"left","baseline":"middle","fontSize":18,"font":"Roboto"},"encoding":{"text":{"field":"label"},"color":{"field":"z","type":"nominal","legend":null,"scale":{"domain":["n","p","y"],"range":["#333333","#7a5c9e","#d8e868"]}}}},
{"data":{"values":[{"t":"2023-08-15T16:30Z","t2":"2023-08-16T13:50Z","v":62.9,"v2":54.67}]},"mark":{"type":"rect","color":"#d0f51a"},"encoding":{"x2":{"field":"t2"},"y2":{"field":"v2"}}},
{"data":{"values":[{"t":"2023-08-15T16:30Z","t2":"2023-08-16T13:50Z","v":54.67,"v2":46.7}]},"mark":{"type":"rect","color":"#7b3ab5"},"encoding":{"x2":{"field":"t2"},"y2":{"field":"v2"}}},
{"data":{"values":[{"label":"58.96","t":"2023-08-16T03:24Z","v":59.1}]},"mark":{"type":"text","align":"center","baseline":"middle","fontSize":17,"fontWeight":500,"font":"Roboto","color":"#111111"},"encoding":{"text":{"field":"label"}}},
{"data":{"values":[{"label":"50.91","t":"2023-08-16T03:24Z","v":50.85}]},"mark":{"type":"text","align":"center","baseline":"middle","fontSize":17,"fontWeight":500,"font":"Roboto","color":"#f8d8f8"},"encoding":{"text":{"field":"label"}}},
{"data":{"values":[{"t":"2023-07-23T14:14Z","t2":"2023-08-15T16:30Z","v":25.14}]},"mark":{"type":"rule","color":"#dddddd","strokeWidth":1.2},"encoding":{"x2":{"field":"t2"}}}
]},
{"width":1664,"height":141,
"resolve":{"scale":{"color":"independent","fill":"independent","stroke":"independent"}},
"encoding":{
"x":{"field":"t","type":"temporal","scale":{"type":"utc","domain":["2023-07-23T14:14:00Z","2023-08-15T16:30:00Z"],"nice":false},"axis":{"values":["2023-07-24T00:00:00Z","2023-07-26T00:00:00Z","2023-07-28T00:00:00Z","2023-07-30T00:00:00Z","2023-08-01T00:00:00Z","2023-08-03T00:00:00Z","2023-08-05T00:00:00Z","2023-08-07T00:00:00Z","2023-08-09T00:00:00Z","2023-08-11T00:00:00Z","2023-08-14T00:00:00Z"],"grid":true,"gridColor":"#dfdfe4","labelExpr":"utcdate(datum.value)==1?'Aug':utcFormat(datum.value,'%-d')","ticks":false,"domain":true,"domainColor":"#222222","labelFontSize":17,"labelColor":"#333333","labelFont":"Roboto","labelPadding":15,"labelFlush":false,"labelOverlap":false,"title":null}},
"y":{"field":"v","type":"quantitative","scale":{"type":"symlog","constant":0.3,"domain":[-152.9,124],"nice":false,"zero":false},"axis":{"orient":"right","values":[-100,0],"labelExpr":"datum.value==0?'0':'−100'","grid":true,"gridColor":"#e6e6e6","ticks":false,"domain":true,"domainColor":"#333333","labelAlign":"left","labelPadding":11,"labelFontSize":17,"labelColor":"#333333","labelFont":"Roboto","labelOverlap":false,"labelFlush":false,"title":null}}},
"layer":[
{"data":{"values":[{"t":"2023-07-23T14:14Z","t2":"2023-08-15T16:30Z","v":0}]},"mark":{"type":"rule","color":"#8a8a8a","strokeDash":[6,4],"strokeWidth":1},"encoding":{"x2":{"field":"t2"}}},
{"data":{"name":"bars"},"mark":{"type":"bar","width":11},"encoding":{"y":{"field":"hist","type":"quantitative"},"y2":{"datum":0},"fill":{"field":"shade","type":"nominal","legend":null,"scale":{"domain":["up","upl","dn","dnl"],"range":["#0e9685","#abdad5","#f23036","#fbc4c9"]}}}},
{"data":{"name":"bars"},"mark":{"type":"line","color":"#d98b3a","strokeWidth":1.6},"encoding":{"y":{"field":"sig","type":"quantitative"}}},
{"data":{"name":"bars"},"mark":{"type":"line","color":"#2a4fa8","strokeWidth":1.6},"encoding":{"y":{"field":"macd","type":"quantitative"}}},
{"data":{"values":[{"t":"2023-07-23T14:14Z","t2":"2023-07-28T19:48Z","v":36.5,"v2":2.9}]},"mark":{"type":"rect","color":"white","opacity":0.55},"encoding":{"x2":{"field":"t2"},"y2":{"field":"v2"}}},
{"data":{"values":[
{"label":"MACD 12 26 close 9 EMA EMA","z":"n","t":"2023-07-23T17:34Z","v":15},
{"label":"−35","z":"r","t":"2023-07-27T09:30Z","v":15},
{"label":"67","z":"b","t":"2023-07-27T21:48Z","v":15},
{"label":"102","z":"o","t":"2023-07-28T08:06Z","v":15}]},
"mark":{"type":"text","align":"left","baseline":"middle","fontSize":18,"font":"Roboto"},"encoding":{"text":{"field":"label"},"color":{"field":"z","type":"nominal","legend":null,"scale":{"domain":["n","r","b","o"],"range":["#333333","#d84c4c","#3a5fb0","#c98a3a"]}}}},
{"data":{"values":[{"t":"2023-07-24T02:14Z","v":-9.2}]},"mark":{"type":"point","shape":"M-1,-0.5L-0.35,-0.5L-0.35,0.5L-0.65,0.5L-0.65,-0.18L-1,-0.18ZM-0.14,-0.42L0,-0.46L0.14,-0.42L0.18,-0.3L0.14,-0.18L0,-0.14L-0.14,-0.18L-0.18,-0.3ZM0.35,-0.5L1,-0.5L0.5,0.5L-0.15,0.5Z","size":1936,"filled":true,"fill":"#0a0a0a","opacity":1}},
{"data":{"values":[{"label":"TradingView","t":"2023-07-24T14:12Z","v":-8.4}]},"mark":{"type":"text","align":"left","baseline":"middle","fontSize":31,"fontWeight":600,"font":"Roboto","color":"#0a0a0a"},"encoding":{"text":{"field":"label"}}},
{"data":{"values":[{"t":"2023-08-15T16:30Z","t2":"2023-08-16T05:10Z","v":113.7,"v2":11.6}]},"mark":{"type":"rect","color":"#1a50d8","cornerRadius":2},"encoding":{"x2":{"field":"t2"},"y2":{"field":"v2"}}},
{"data":{"values":[{"t":"2023-08-15T16:30Z","t2":"2023-08-16T08:10Z","v":-11,"v2":-107.7}]},"mark":{"type":"rect","color":"#f0343c","cornerRadius":2},"encoding":{"x2":{"field":"t2"},"y2":{"field":"v2"}}},
{"data":{"values":[{"label":"67","t":"2023-08-15T22:50Z","v":36.5},{"label":"−35","t":"2023-08-16T00:30Z","v":-34.8}]},"mark":{"type":"text","align":"center","baseline":"middle","fontSize":17,"fontWeight":500,"font":"Roboto","color":"#f4f4ff"},"encoding":{"text":{"field":"label"}}},
{"data":{"values":[{"t":"2023-08-15T16:30Z","t2":"2023-08-16T15:10Z","v":-152.9}]},"mark":{"type":"rule","color":"#222222","strokeWidth":1},"encoding":{"x2":{"field":"t2"}}},
{"data":{"values":[{"t":"2023-08-15T16:30Z","v":-152.9,"v2":-4500}]},"mark":{"type":"rule","color":"#222222","strokeWidth":1},"encoding":{"y2":{"field":"v2"}}},
{"data":{"values":[{"t":"2023-08-16T08:12Z","v":-948}]},"mark":{"type":"point","shape":"M-1,0L-0.5,-0.87L0.5,-0.87L1,0L0.5,0.87L-0.5,0.87Z","size":441,"filled":false,"stroke":"#222222","strokeWidth":1.6,"opacity":1}},
{"data":{"values":[{"t":"2023-08-16T08:12Z","v":-948}]},"mark":{"type":"point","shape":"circle","size":50,"filled":false,"stroke":"#222222","strokeWidth":1.6,"opacity":1}}
]}
]}
